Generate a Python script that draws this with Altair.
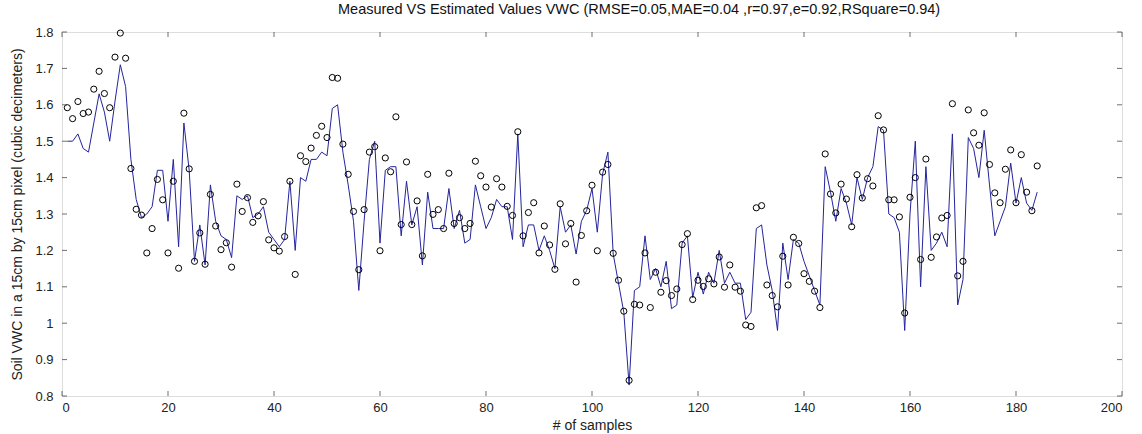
import altair as alt
import pandas as pd

# Sample index 1..184
samples = list(range(1, 185))

# Measured soil VWC (open circles)
measured = [
    1.592, 1.562, 1.609, 1.576, 1.580, 1.643, 1.692, 1.631, 1.592, 1.731,
    1.797, 1.728, 1.425, 1.313, 1.297, 1.193, 1.260, 1.395, 1.339, 1.193,
    1.390, 1.151, 1.577, 1.424, 1.170, 1.248, 1.162, 1.354, 1.267, 1.202,
    1.221, 1.154, 1.382, 1.307, 1.345, 1.277, 1.295, 1.334, 1.229, 1.207,
    1.198, 1.238, 1.390, 1.134, 1.460, 1.444, 1.481, 1.516, 1.541, 1.510,
    1.675, 1.673, 1.492, 1.409, 1.307, 1.147, 1.312, 1.470, 1.485, 1.199,
    1.454, 1.416, 1.567, 1.271, 1.443, 1.271, 1.336, 1.185, 1.409, 1.299,
    1.312, 1.260, 1.412, 1.274, 1.290, 1.260, 1.274, 1.445, 1.405, 1.374,
    1.319, 1.397, 1.374, 1.321, 1.296, 1.526, 1.240, 1.304, 1.331, 1.193,
    1.267, 1.215, 1.148, 1.328, 1.218, 1.274, 1.113, 1.241, 1.309, 1.379,
    1.199, 1.415, 1.436, 1.192, 1.118, 1.033, 0.843, 1.052, 1.050, 1.193,
    1.043, 1.140, 1.085, 1.117, 1.076, 1.094, 1.216, 1.246, 1.065, 1.118,
    1.101, 1.122, 1.108, 1.182, 1.099, 1.160, 1.099, 1.088, 0.995, 0.991,
    1.317, 1.323, 1.105, 1.076, 1.045, 1.184, 1.105, 1.236, 1.219, 1.136,
    1.115, 1.088, 1.043, 1.465, 1.355, 1.303, 1.382, 1.341, 1.265, 1.408,
    1.344, 1.397, 1.377, 1.570, 1.531, 1.339, 1.339, 1.292, 1.028, 1.346,
    1.400, 1.175, 1.451, 1.181, 1.237, 1.289, 1.296, 1.603, 1.130, 1.170,
    1.586, 1.523, 1.489, 1.578, 1.436, 1.358, 1.331, 1.423, 1.476, 1.331,
    1.463, 1.360, 1.309, 1.432,
]

# Estimated soil VWC (blue line)
estimated = [
    1.50, 1.50, 1.52, 1.48, 1.47, 1.55, 1.63, 1.58, 1.50, 1.61,
    1.71, 1.65, 1.45, 1.34, 1.29, 1.30, 1.32, 1.42, 1.42, 1.28,
    1.45, 1.21, 1.55, 1.42, 1.17, 1.27, 1.16, 1.38, 1.28, 1.24,
    1.23, 1.18, 1.35, 1.34, 1.35, 1.29, 1.30, 1.32, 1.25, 1.23,
    1.21, 1.23, 1.39, 1.20, 1.40, 1.39, 1.45, 1.45, 1.47, 1.46,
    1.59, 1.60, 1.47, 1.38, 1.28, 1.09, 1.28, 1.45, 1.50, 1.22,
    1.42, 1.43, 1.43, 1.24, 1.39, 1.27, 1.32, 1.16, 1.36, 1.26,
    1.26, 1.26, 1.37, 1.26, 1.31, 1.22, 1.23, 1.38, 1.32, 1.26,
    1.29, 1.34, 1.32, 1.32, 1.23, 1.52, 1.21, 1.27, 1.27, 1.20,
    1.24, 1.20, 1.15, 1.32, 1.25, 1.27, 1.19, 1.28, 1.31, 1.37,
    1.25, 1.41, 1.47, 1.19, 1.11, 1.03, 0.83, 1.09, 1.10, 1.24,
    1.12, 1.15, 1.10, 1.17, 1.04, 1.05, 1.22, 1.24, 1.07, 1.14,
    1.08, 1.14, 1.11, 1.20, 1.11, 1.14, 1.11, 1.11, 1.01, 1.03,
    1.26, 1.27, 1.16, 1.09, 0.98, 1.22, 1.12, 1.23, 1.22, 1.17,
    1.13, 1.09, 1.05, 1.43, 1.36, 1.28, 1.37, 1.33, 1.27, 1.40,
    1.34, 1.40, 1.43, 1.54, 1.53, 1.30, 1.29, 1.25, 0.98, 1.30,
    1.50, 1.10, 1.43, 1.20, 1.22, 1.25, 1.21, 1.52, 1.05, 1.12,
    1.51, 1.48, 1.40, 1.53, 1.38, 1.24, 1.28, 1.32, 1.44, 1.33,
    1.40, 1.33, 1.31, 1.36,
]

x_ticks = [0, 20, 40, 60, 80, 100, 120, 140, 160, 180, 200]
y_ticks = [0.8, 0.9, 1.0, 1.1, 1.2, 1.3, 1.4, 1.5, 1.6, 1.7, 1.8]

W, H = 1060, 364
FONT = "Liberation Sans"
TEXT = "#222222"

df = pd.DataFrame({"sample": samples, "measured": measured, "estimated": estimated})
xt = pd.DataFrame({"t": x_ticks})
yt = pd.DataFrame({"t": y_ticks})

x_scale = alt.Scale(domain=[0, 200], nice=False, zero=False)
y_scale = alt.Scale(domain=[0.8, 1.8], nice=False, zero=False)

x_axis = alt.Axis(
    values=x_ticks, title="# of samples", tickSize=0, domain=False, grid=False,
    labelPadding=5, titlePadding=4, labelOverlap=False,
    labelFont=FONT, labelFontSize=13, labelColor=TEXT,
    titleFont=FONT, titleFontSize=14, titleFontWeight=400, titleColor=TEXT,
)
y_axis = alt.Axis(
    values=y_ticks, title="Soil VWC in a 15cm by 15cm pixel (cubic decimeters)",
    tickSize=0, domain=False, grid=False, labelPadding=9, titlePadding=10,
    format=".1~f", labelOverlap=False,
    labelFont=FONT, labelFontSize=13, labelColor=TEXT,
    titleFont=FONT, titleFontSize=14, titleFontWeight=400, titleColor=TEXT,
)


def xq(field):
    return alt.X(field, type="quantitative", scale=x_scale, axis=x_axis)


def yq(field):
    return alt.Y(field, type="quantitative", scale=y_scale, axis=y_axis)


line = alt.Chart(df).mark_line(color="#24249c", strokeWidth=1).encode(
    x=xq("sample"), y=yq("estimated"),
)

points = alt.Chart(df).mark_point(
    shape="circle", filled=False, color="black", size=38, strokeWidth=1, opacity=1
).encode(
    x=xq("sample"), y=yq("measured"),
)

# Inward-pointing tick marks on all four sides of the box
tick_style = dict(color="#333333", thickness=1, size=5)
top_ticks = alt.Chart(xt).mark_tick(orient="vertical", **tick_style).encode(
    x=xq("t"), y=alt.value(2.5))
bottom_ticks = alt.Chart(xt).mark_tick(orient="vertical", **tick_style).encode(
    x=xq("t"), y=alt.value(H - 2.5))
left_ticks = alt.Chart(yt).mark_tick(orient="horizontal", **tick_style).encode(
    y=yq("t"), x=alt.value(2.5))
right_ticks = alt.Chart(yt).mark_tick(orient="horizontal", **tick_style).encode(
    y=yq("t"), x=alt.value(W - 2.5))

chart = alt.layer(
    line, points, top_ticks, bottom_ticks, left_ticks, right_ticks
).properties(
    width=W,
    height=H,
    title=alt.TitleParams(
        "Measured VS Estimated Values VWC  (RMSE=0.05,MAE=0.04 ,r=0.97,e=0.92,RSquare=0.94)",
        font=FONT, fontSize=14.5, fontWeight=400, color="#111111", offset=9,
        anchor="start", frame="group", dx=276,
    ),
    autosize=alt.AutoSizeParams(type="none"),
    padding={"left": 62, "top": 32, "right": 20, "bottom": 38},
).configure_view(
    stroke="#333333", strokeWidth=1
).configure(background="white")

chart.save("out.html", embed_options={"renderer": "svg", "actions": False})
